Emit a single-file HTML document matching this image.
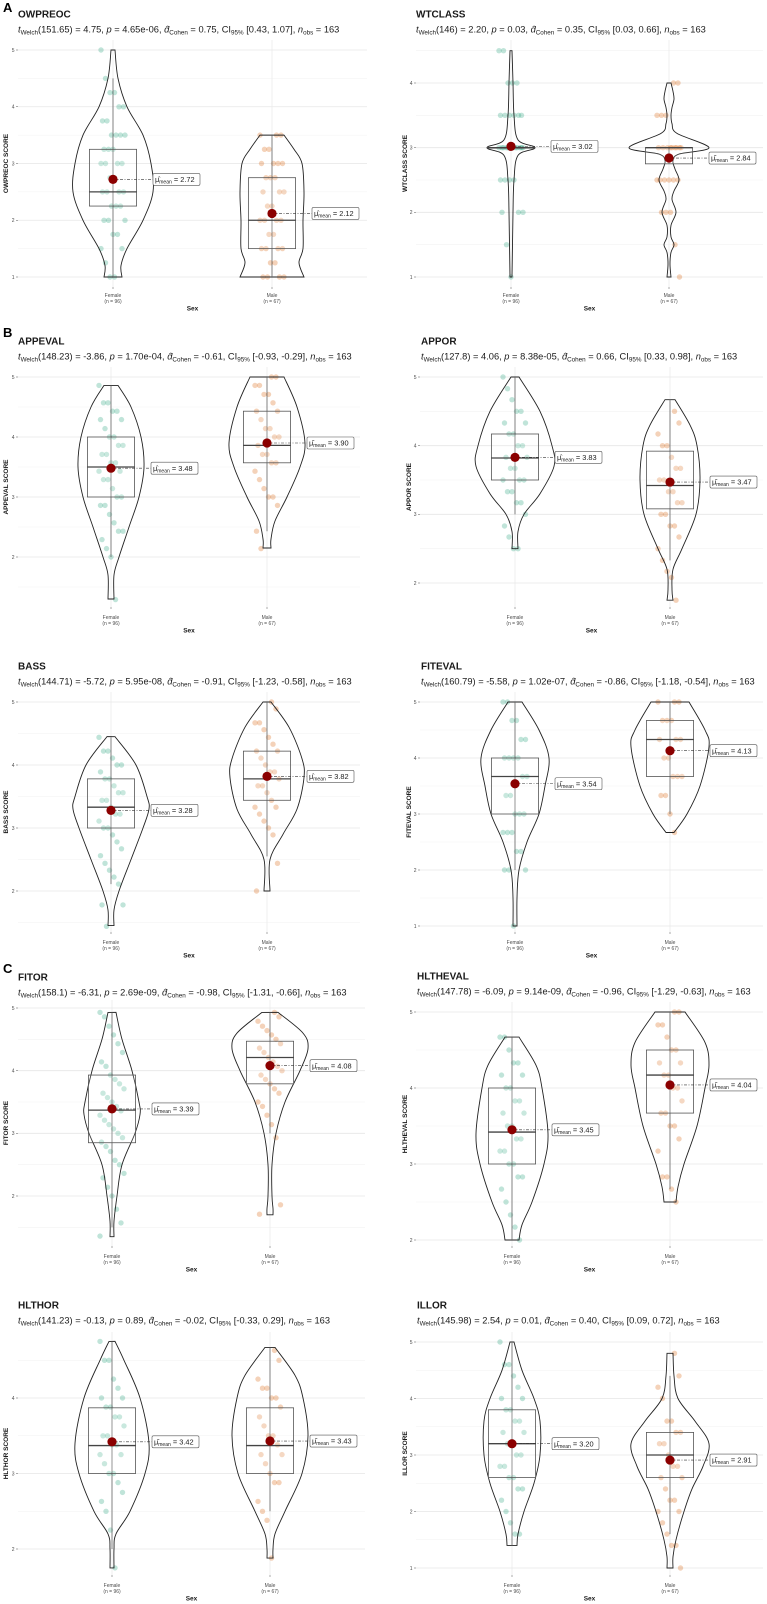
<!DOCTYPE html>
<html><head><meta charset="utf-8">
<style>
html,body{margin:0;padding:0;background:#fff;}
svg{display:block;font-family:"Liberation Sans",sans-serif;}
</style></head>
<body>
<svg id="fig" width="767" height="1604" viewBox="0 0 767 1604" xmlns="http://www.w3.org/2000/svg"></svg>
<script>
// ---------- DATA ----------
const categories = ["Female", "Male"];
const categoryCounts = [96, 67];
const panelNames = ["OWPREOC","WTCLASS","APPEVAL","APPOR","BASS","FITEVAL","FITOR","HLTHEVAL","HLTHOR","ILLOR"];
const meanValues = [[2.72,2.12],[3.02,2.84],[3.48,3.90],[3.83,3.47],[3.28,3.82],[3.54,4.13],[3.39,4.08],[3.45,4.04],[3.42,3.43],[3.20,2.91]];
const meanLabels = [["2.72","2.12"],["3.02","2.84"],["3.48","3.90"],["3.83","3.47"],["3.28","3.82"],["3.54","4.13"],["3.39","4.08"],["3.45","4.04"],["3.42","3.43"],["3.20","2.91"]];
// box stats: [whiskerLo, q1, median, q3, whiskerHi]
const boxStats = [
 [[1,2.25,2.5,3.25,4.5],[1,1.5,2,2.75,3.5]],
 [[3,3,3,3,3],[2.75,2.75,3,3,3]],
 [[2,3,3.5,4,4.86],[2.43,3.57,3.86,4.43,5]],
 [[3,3.5,3.82,4.17,5],[2.33,3.08,3.42,3.92,4.67]],
 [[2.11,3,3.33,3.78,4.44],[2.55,3.44,3.78,4.22,5]],
 [[2,3,3.67,4,5],[3,3.67,4.33,4.67,5]],
 [[1.5,2.85,3.37,3.93,4.93],[3,3.79,4.21,4.47,4.93]],
 [[2,3,3.42,4,4.67],[2.67,3.67,4.17,4.5,5]],
 [[2,3,3.37,3.87,4.75],[2.5,3,3.37,3.87,4.67]],
 [[1.4,2.6,3.2,3.8,5],[1.6,2.6,3,3.4,4.4]]
];
// violin outlines: [value, half-width]
const violinShapes = [
 [[[5,2],[4.5,5],[4,14],[3.5,30],[3,38],[2.5,40],[2,30],[1.5,14],[1.2,8],[1,9]],
  [[3.5,12],[3.25,22],[3,30],[2.5,32],[2,31],[1.5,31],[1.25,27],[1,32]]],
 [[[4.5,1],[4,2],[3.5,3],[3.12,7],[3,24],[2.88,7],[2.5,3],[2,2],[1,1]],
  [[4,2],[3.87,4],[3.75,5],[3.62,3],[3.5,2],[3.37,3],[3.22,8],[3,40],[2.9,10],[2.8,4],[2.67,6],[2.5,10],[2.33,5],[2.2,3],[2,7],[1.8,2],[1.62,2],[1.5,5],[1.38,2],[1.2,1],[1,2]]],
 [[[4.86,7],[4.5,20],[4,30],[3.5,33],[3,28],[2.5,18],[2,8],[1.7,3],[1.3,3]],
  [[5,17],[4.5,30],[3.9,38],[3.5,33],[3,20],[2.6,8],[2.3,4],[2.15,4]]],
 [[[5,4],[4.5,25],[4,37],[3.7,39],[3.3,25],[3,9],[2.75,3],[2.5,3]],
  [[4.67,5],[4.3,20],[4,27],[3.5,30],[3,26],[2.5,12],[2.2,3],[1.9,2],[1.75,3]]],
 [[[4.45,4],[4,25],[3.5,36],[3.3,38],[3,32],[2.5,20],[2,8],[1.7,3],[1.45,3]],
  [[5,4],[4.6,22],[4.1,35],[3.8,37],[3.3,30],[2.9,16],[2.5,3],[2,3]]],
 [[[5,7],[4.5,24],[4,34],[3.5,30],[3,24],[2.5,12],[2,4],[1.5,2],[1,2]],
  [[5,19],[4.5,35],[4.2,39],[3.5,30],[3,17],[2.67,4]]],
 [[[4.93,4],[4.5,10],[4,20],[3.5,27],[3.3,28],[3,23],[2.5,10],[2,5],[1.6,2],[1.35,2]],
  [[4.93,8],[4.6,33],[4.35,38],[4,30],[3.5,15],[3,6],[2.5,2],[2,2],[1.8,3],[1.7,3]]],
 [[[4.67,7],[4.3,24],[4,30],[3.4,36],[3,32],[2.5,20],[2.2,10],[2,7]],
  [[5,15],[4.6,35],[4.3,39],[4,35],[3.5,27],[3,14],[2.7,8],[2.5,6]]],
 [[[4.75,3],[4.5,12],[4,28],[3.4,37],[3,33],[2.5,18],[2.2,4],[2,2],[1.75,2]],
  [[4.67,5],[4.3,25],[4,33],[3.5,38],[3,32],[2.5,15],[2.2,5],[2,3],[1.88,3]]],
 [[[5,2],[4.5,10],[4,22],[3.6,28],[3,28],[2.5,22],[2,12],[1.6,6],[1.4,5]],
  [[4.8,3],[4.4,4],[4,8],[3.6,25],[3.2,39],[2.8,33],[2.4,22],[2,14],[1.5,6],[1.2,3],[1,3]]]
];
const pointValues = [
 [[5,4.5,4.25,4.25,4,4,3.75,3.75,3.5,3.5,3.5,3.5,3.25,3.25,3.25,3,3,3,3,2.75,2.75,2.5,2.5,2.5,2.5,2.25,2.25,2.25,2,2,2,1.75,1.75,1.5,1.5,1.25,1,1],
  [3.5,3.5,3.5,3.25,3.25,3,3,3,3,2.75,2.75,2.75,2.5,2.5,2.5,2.25,2.25,2,2,2,2,1.75,1.75,1.5,1.5,1.5,1.5,1.25,1.25,1,1,1,1]],
 [[4.5,4.5,4,4,4,3.5,3.5,3.5,3.5,3.5,3.5,3,3,3,3,3,3,3,3,3,3,3,3,2.5,2.5,2.5,2.5,2,2,2,1.5,1],
  [4,4,3.5,3.5,3.5,3,3,3,3,3,3,3,3,3,2.5,2.5,2.5,2.5,2.5,2.5,2,2,2,1.5,1]],
 [[4.86,4.57,4.57,4.43,4.43,4.29,4.29,4.14,4,4,3.86,3.86,3.71,3.71,3.57,3.57,3.43,3.43,3.29,3.29,3.14,3,3,2.86,2.86,2.71,2.57,2.43,2.43,2.29,2.14,2,1.29],
  [5,5,4.86,4.86,4.71,4.71,4.57,4.43,4.43,4.29,4.14,4.14,4,4,3.86,3.71,3.71,3.57,3.57,3.43,3.29,3.14,3,3,2.86,2.43,2.14]],
 [[5,4.83,4.67,4.5,4.5,4.33,4.33,4.17,4.17,4,4,3.83,3.83,3.67,3.67,3.5,3.5,3.5,3.33,3.33,3.17,3.17,3,2.83,2.67,2.5,2.5],
  [4.5,4.33,4.17,4,4,3.83,3.67,3.67,3.5,3.5,3.33,3.33,3.17,3.17,3,3,2.83,2.83,2.67,2.5,2.33,2.17,2.08,1.75]],
 [[4.44,4.22,4.22,4.11,4,4,3.89,3.78,3.78,3.67,3.56,3.56,3.44,3.44,3.33,3.22,3.22,3.11,3,3,2.89,2.78,2.67,2.56,2.44,2.33,2.22,2.11,1.78,1.78,1.44],
  [5,4.89,4.67,4.67,4.56,4.44,4.33,4.22,4.22,4.11,4,3.89,3.89,3.78,3.67,3.67,3.56,3.44,3.33,3.33,3.22,3.11,3,2.89,2.44,2]],
 [[5,5,4.67,4.67,4.33,4.33,4,4,4,4,3.67,3.67,3.33,3.33,3,3,3,2.67,2.67,2.67,2.33,2.33,2,2,2,1],
  [5,5,5,4.67,4.67,4.67,4.33,4.33,4.33,4,4,3.67,3.67,3.67,3.33,3.33,3,2.67]],
 [[4.93,4.86,4.71,4.57,4.43,4.29,4.14,4.07,3.93,3.86,3.79,3.71,3.64,3.57,3.5,3.43,3.36,3.29,3.21,3.14,3.07,3,2.93,2.86,2.79,2.71,2.57,2.5,2.36,2.29,2.14,2,1.79,1.57,1.36],
  [4.93,4.86,4.79,4.71,4.64,4.57,4.5,4.43,4.36,4.29,4.21,4.14,4.07,4,3.93,3.86,3.79,3.71,3.64,3.5,3.43,3.29,3.14,2.93,1.86,1.71]],
 [[4.67,4.67,4.5,4.33,4.33,4.17,4.17,4,4,3.83,3.83,3.67,3.67,3.5,3.5,3.33,3.33,3.17,3.17,3,3,2.83,2.83,2.67,2.5,2.33,2.17,2],
  [5,5,4.83,4.83,4.67,4.5,4.5,4.33,4.33,4.17,4.17,4,4,3.83,3.67,3.67,3.5,3.5,3.33,3.17,2.83,2.83,2.67,2.5]],
 [[4.75,4.5,4.5,4.25,4.13,4,4,3.88,3.88,3.75,3.75,3.63,3.5,3.5,3.38,3.38,3.25,3.25,3.13,3,3,2.88,2.75,2.63,2.5,2.25,1.75],
  [4.63,4.5,4.25,4.13,4.13,4,4,3.88,3.75,3.63,3.5,3.5,3.38,3.25,3.25,3.13,3,2.88,2.88,2.63,2.5,2.38,1.88]],
 [[5,4.6,4.6,4.4,4.2,4,4,3.8,3.8,3.6,3.6,3.4,3.4,3.2,3.2,3,3,2.8,2.8,2.6,2.6,2.4,2.4,2.2,2,1.8,1.6,1.6],
  [4.8,4.4,4.2,4,3.6,3.6,3.4,3.4,3.2,3.2,3,2.8,2.8,2.6,2.6,2.4,2.2,2.2,2,2,1.8,1.6,1.4,1.4,1]]
];
const yTicks = [[1,2,3,4,5],[1,2,3,4],[2,3,4,5],[2,3,4,5],[2,3,4,5],[1,2,3,4,5],[2,3,4,5],[2,3,4,5],[2,3,4],[1,2,3,4,5]];
const minorTicks = [[1.5,2.5,3.5,4.5],[1.5,2.5,3.5,4.5],[1.5,2.5,3.5,4.5],[2.5,3.5,4.5],[1.5,2.5,3.5,4.5],[1.5,2.5,3.5,4.5],[1.5,2.5,3.5,4.5],[2.5,3.5,4.5],[2.5,3.5,4.5],[1.5,2.5,3.5,4.5]];
const statsLines = [
 ["151.65","4.75","4.65e-06","0.75","[0.43, 1.07]"],
 ["146","2.20","0.03","0.35","[0.03, 0.66]"],
 ["148.23","-3.86","1.70e-04","-0.61","[-0.93, -0.29]"],
 ["127.8","4.06","8.38e-05","0.66","[0.33, 0.98]"],
 ["144.71","-5.72","5.95e-08","-0.91","[-1.23, -0.58]"],
 ["160.79","-5.58","1.02e-07","-0.86","[-1.18, -0.54]"],
 ["158.1","-6.31","2.69e-09","-0.98","[-1.31, -0.66]"],
 ["147.78","-6.09","9.14e-09","-0.96","[-1.29, -0.63]"],
 ["141.23","-0.13","0.89","-0.02","[-0.33, 0.29]"],
 ["145.98","2.54","0.01","0.40","[0.09, 0.72]"]
];
const nObs = 163;

// ---------- LAYOUT (positions, not data) ----------
const L = [
 {xs:[113,272],gl:18,gr:367,tx:18,ty:14,m:[5,50,1,277],pt:40,pb:287,cy:295,ax:6},
 {xs:[511,669],gl:416,gr:763,tx:416,ty:14,m:[4,83,1,277],pt:40,pb:287,cy:295,ax:405},
 {xs:[111,267],gl:18,gr:360,tx:18,ty:341,m:[5,377,2,557],pt:367,pb:607,cy:617,ax:6},
 {xs:[515,670],gl:420,gr:763,tx:421,ty:341,m:[5,377,2,583],pt:367,pb:607,cy:617,ax:409},
 {xs:[111,267],gl:18,gr:360,tx:18,ty:666,m:[5,702,2,891],pt:692,pb:932,cy:942,ax:6},
 {xs:[515,670],gl:420,gr:763,tx:421,ty:666,m:[5,702,4,758],pt:692,pb:932,cy:942,ax:409},
 {xs:[112,270],gl:18,gr:365,tx:18,ty:977,m:[5,1008,2,1196],pt:1000,pb:1246,cy:1256,ax:6},
 {xs:[512,670],gl:416,gr:763,tx:417,ty:976,m:[5,1012,4,1088],pt:1002,pb:1246,cy:1256,ax:405},
 {xs:[112,270],gl:18,gr:365,tx:18,ty:1305,m:[4,1398,2,1549],pt:1332,pb:1575,cy:1585,ax:6},
 {xs:[512,670],gl:416,gr:763,tx:417,ty:1305,m:[5,1342,1,1568],pt:1332,pb:1575,cy:1585,ax:405}
];
const colors = ["#1b9e77","#d95f02"];
const NS = "http://www.w3.org/2000/svg";
const svg = document.getElementById("fig");
function mk(tag, attrs, parent){
  const e = document.createElementNS(NS, tag);
  for (const k in attrs) e.setAttribute(k, attrs[k]);
  (parent||svg).appendChild(e);
  return e;
}
function smoothPath(pts){
  let d = "";
  for (let i=0;i<pts.length;i++){
    const p = pts[i];
    if (i===0){ d += "M"+p[0]+","+p[1]; continue; }
    const p0 = pts[Math.max(0,i-2)], p1 = pts[i-1], p3 = pts[Math.min(pts.length-1,i+1)];
    const c1 = [p1[0]+(p[0]-p0[0])/6, p1[1]+(p[1]-p0[1])/6];
    const c2 = [p[0]-(p3[0]-p1[0])/6, p[1]-(p3[1]-p1[1])/6];
    d += " C"+c1[0].toFixed(1)+","+c1[1].toFixed(1)+" "+c2[0].toFixed(1)+","+c2[1].toFixed(1)+" "+p[0].toFixed(1)+","+p[1].toFixed(1);
  }
  return d;
}

// panel letters
[["A",7],["B",332],["C",968]].forEach(function(a){
  const t = mk("text",{x:3,y:a[1]+5,"font-size":13,"font-weight":"bold",fill:"#000"});
  
  
  t.textContent = a[0];
});

panelNames.forEach(function(name, pi){
  const lay = L[pi];
  const key = name.toLowerCase();
  const g = mk("g",{});
  
  
  const yv = function(v){ return lay.m[1] + (v - lay.m[0])*(lay.m[3]-lay.m[1])/(lay.m[2]-lay.m[0]); };

  const title = mk("text",{x:lay.tx,y:lay.ty+3.5,"font-size":10,"font-weight":"bold",fill:"#1a1a1a"},g);
  
  
  title.textContent = name;

  const s = statsLines[pi];
  const st = mk("text",{x:lay.tx,y:lay.ty+18.5,"font-size":9.3,fill:"#1a1a1a"},g);
  
  
  st.innerHTML = '<tspan font-style="italic">t</tspan><tspan font-size="6.3" dy="2">Welch</tspan><tspan dy="-2">('+s[0]+') = '+s[1]+', </tspan><tspan font-style="italic">p</tspan><tspan> = '+s[2]+', </tspan><tspan font-style="italic">d&#770;</tspan><tspan font-size="6.3" dy="2">Cohen</tspan><tspan dy="-2"> = '+s[3]+', CI</tspan><tspan font-size="6.3" dy="2">95%</tspan><tspan dy="-2"> '+s[4]+', </tspan><tspan font-style="italic">n</tspan><tspan font-size="6.3" dy="2">obs</tspan><tspan dy="-2"> = '+nObs+'</tspan>';

  minorTicks[pi].forEach(function(v){
    const l = mk("line",{x1:lay.gl,x2:lay.gr,y1:yv(v),y2:yv(v),stroke:"#f2f2f2","stroke-width":0.6},g);
    
    
  });
  yTicks[pi].forEach(function(v){
    const l = mk("line",{x1:lay.gl,x2:lay.gr,y1:yv(v),y2:yv(v),stroke:"#e6e6e6","stroke-width":0.8},g);
    
    
    const tk = mk("line",{x1:lay.gl-2,x2:lay.gl,y1:yv(v),y2:yv(v),stroke:"#555","stroke-width":0.5},g);
    
    
    const t = mk("text",{x:lay.gl-3.5,y:yv(v)+1.8,"font-size":5,fill:"#4d4d4d","text-anchor":"end"},g);
    
    
    t.textContent = v;
  });
  lay.xs.forEach(function(x){
    const l = mk("line",{x1:x,x2:x,y1:lay.pt,y2:lay.pb,stroke:"#ebebeb","stroke-width":0.8},g);
    
    
  });

  const midY = (lay.pt+lay.pb)/2;
  const at = mk("text",{x:lay.ax+2,y:midY,"font-size":6.5,"font-weight":"bold",fill:"#1a1a1a","text-anchor":"middle",transform:"rotate(-90 "+(lay.ax+2)+" "+midY+")"},g);
  
  
  at.textContent = name+" SCORE";

  categories.forEach(function(cat, ci){
    const cx = lay.xs[ci];
    pointValues[pi][ci].forEach(function(v, k){
      const jx = (((k*37+ci*11)%17) - 8)/8*12;
      const c = mk("circle",{cx:(cx+jx).toFixed(1),cy:yv(v).toFixed(1),r:2.7,fill:colors[ci],"fill-opacity":0.28},g);
      
      
    });
    const sh = violinShapes[pi][ci];
    const right = sh.map(function(p){ return [cx+p[1], yv(p[0])]; });
    const left = sh.slice().reverse().map(function(p){ return [cx-p[1], yv(p[0])]; });
    const d = smoothPath(right) + " L" + left[0][0].toFixed(1)+","+left[0][1].toFixed(1) + smoothPath(left).replace(/^M[^ ]+/,"") + " Z";
    const vp = mk("path",{d:d,fill:"none",stroke:"#222","stroke-width":0.9},g);
    
    
    const b = boxStats[pi][ci];
    const wl = mk("line",{x1:cx,x2:cx,y1:yv(b[0]),y2:yv(b[4]),stroke:"#666","stroke-width":0.8},g);
    
    
    const bh = 23.6;
    const br = mk("rect",{x:cx-bh,y:yv(b[3]),width:bh*2,height:Math.max(0.5,yv(b[1])-yv(b[3])),fill:"#fff","fill-opacity":0.15,stroke:"#555","stroke-width":0.8},g);
    
    
    const md = mk("line",{x1:cx-bh,x2:cx+bh,y1:yv(b[2]),y2:yv(b[2]),stroke:"#444","stroke-width":1.3},g);
    
    
    const my = yv(meanValues[pi][ci]);
    const bx = cx + 40;
    const dl = mk("line",{x1:cx,x2:bx,y1:my,y2:my,stroke:"#333","stroke-width":0.6,"stroke-dasharray":"3,1.5,1,1.5"},g);
    
    
    const mc = mk("circle",{cx:cx,cy:my,r:4.6,fill:"#8b0000"},g);
    
    
    const lb = mk("rect",{x:bx,y:my-6,width:47,height:12,rx:1.5,fill:"#fff",stroke:"#555","stroke-width":0.6},g);
    
    
    const lt = mk("text",{x:bx+2,y:my+2.6,"font-size":7.4,fill:"#222"},g);
    
    
    lt.innerHTML = 'μ&#770;<tspan font-size="5" dy="1.5">mean</tspan><tspan dy="-1.5"> = '+meanLabels[pi][ci]+'</tspan>';
    const xt = mk("line",{x1:cx,x2:cx,y1:lay.pb,y2:lay.pb+2,stroke:"#555","stroke-width":0.5},g);
    
    
    const c1 = mk("text",{x:cx,y:lay.cy+1.8,"font-size":5,fill:"#4d4d4d","text-anchor":"middle"},g);
    
    
    c1.textContent = cat;
    const c2 = mk("text",{x:cx,y:lay.cy+8,"font-size":5,fill:"#4d4d4d","text-anchor":"middle"},g);
    
    
    c2.textContent = "(n = "+categoryCounts[ci]+")";
  });
  const sx = mk("text",{x:(lay.gl+lay.gr)/2,y:lay.cy+15.5,"font-size":6.5,"font-weight":"bold",fill:"#1a1a1a","text-anchor":"middle"},g);
  
  
  sx.textContent = "Sex";
});
</script>
</body></html>
